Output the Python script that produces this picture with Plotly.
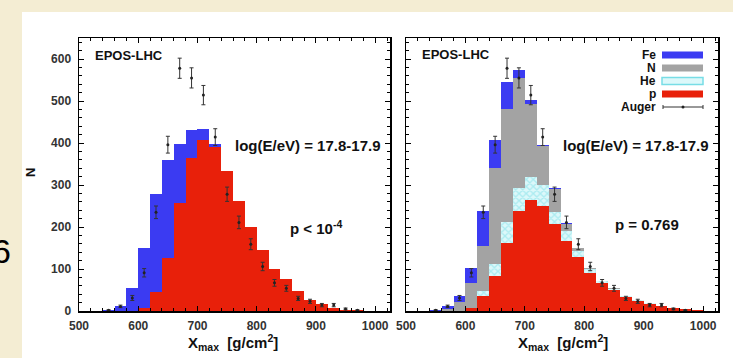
import plotly.graph_objects as go

# ---------------- data ----------------
bin_centers = [510, 530, 550, 570, 590, 610, 630, 650, 670, 690, 710, 730, 750,
               770, 790, 810, 830, 850, 870, 890, 910, 930, 950, 970, 990, 1010]
bin_width = 20

# left panel: p + Fe fit
left_p = [0, 0, 0, 0, 0, 8, 45, 127, 256, 365, 408, 390, 333,
          263, 199, 145, 101, 76, 47, 26, 16, 8, 3, 2, 1, 0]
left_fe = [1, 1, 2, 13, 55, 142, 233, 233, 142, 65, 25, 7, 0,
           0, 0, 0, 0, 0, 0, 0, 0, 0, 0, 0, 0, 0]

# right panel: p, He, N, Fe fit
right_p = [0, 0, 0, 0, 0, 6, 36, 83, 162, 237, 265, 249, 208,
           166, 128, 90, 66, 50, 34, 24, 17, 11, 6, 4, 2, 1]
right_he = [0, 0, 0, 0, 0, 2, 12, 30, 50, 55, 55, 51, 27,
            24, 16, 10, 5, 3, 2, 2, 1, 1, 0, 0, 0, 0]
right_n = [1, 1, 1, 4, 22, 58, 107, 228, 270, 263, 174, 93, 55,
           18, 5, 2, 1, 1, 0, 0, 0, 0, 0, 0, 0, 0]
right_fe = [0, 0, 1, 9, 14, 37, 82, 67, 63, 18, 8, 2, 2,
            1, 0, 0, 0, 0, 0, 0, 0, 0, 0, 0, 0, 0]

# Auger data
auger_x = [550, 570, 590, 610, 630, 650, 670, 690, 710, 730, 750, 770, 790,
           810, 830, 850, 870, 890, 910, 930, 950, 970]
auger_n = [2, 11, 31, 91, 235, 396, 578, 555, 514, 414, 278, 211, 159,
           106, 67, 54, 30, 23, 14, 14, 5, 2]
auger_err = [1, 3, 6, 10, 15, 20, 24, 24, 23, 20, 17, 15, 13,
             10, 8, 7, 5, 5, 4, 4, 2, 1]

x_ticks = [500, 600, 700, 800, 900, 1000]
y_ticks = [0, 100, 200, 300, 400, 500, 600]

# ---------------- styling ----------------
W, H = 733, 358
FONT = "Liberation Sans, Arial, Helvetica, sans-serif"
RED = "#e8200a"
BLUE = "#3b3bf2"
GRAY = "#a3a3a3"
CYAN_FG = "#78dde6"
CYAN_BG = "#dcf8fa"
BEIGE = "#f4edd3"


def px(x):
    return x / W


def py(y):
    return 1 - y / H


fig = go.Figure()


def add_bar(vals, color, xa, ya, pattern=None):
    marker = dict(color=color, line=dict(width=0))
    if pattern:
        marker["pattern"] = pattern
    fig.add_trace(go.Bar(x=bin_centers, y=vals, width=bin_width, marker=marker,
                         xaxis=xa, yaxis=ya, showlegend=False, hoverinfo="skip"))


def add_auger(xa, ya):
    fig.add_trace(go.Scatter(
        x=auger_x, y=auger_n, mode="markers", xaxis=xa, yaxis=ya,
        marker=dict(color="#222222", size=3),
        error_y=dict(type="data", array=auger_err, color="#333333",
                     thickness=1, width=2),
        showlegend=False, hoverinfo="skip"))


# left panel
add_bar(left_p, RED, "x", "y")
add_bar(left_fe, BLUE, "x", "y")
add_auger("x", "y")

# right panel
add_bar(right_p, RED, "x2", "y2")
add_bar(right_he, CYAN_BG, "x2", "y2",
        pattern=dict(shape="x", fgcolor=CYAN_FG, bgcolor=CYAN_BG, size=5, solidity=0.45))
add_bar(right_n, GRAY, "x2", "y2")
add_bar(right_fe, BLUE, "x2", "y2")
add_auger("x2", "y2")

tickfont = dict(family=FONT, size=12, color="#333333", weight="bold")

common_x = dict(range=[500, 1025], tickvals=x_ticks, ticks="inside", ticklen=5,
                tickwidth=1, tickcolor="black", showline=True, linecolor="black",
                linewidth=1.5, mirror="allticks", showgrid=False, zeroline=False,
                tickfont=tickfont, fixedrange=True, automargin=False,
                minor=dict(dtick=20, ticks="inside", ticklen=3, tickcolor="black",
                           tickwidth=1, showgrid=False),
                ticklabelstandoff=3)
common_y = dict(range=[0, 650], tickvals=y_ticks, ticks="inside", ticklen=5,
                tickwidth=1, tickcolor="black", showline=True, linecolor="black",
                linewidth=1.5, mirror="allticks", showgrid=False, zeroline=False,
                tickfont=tickfont, fixedrange=True, automargin=False,
                minor=dict(dtick=20, ticks="inside", ticklen=3, tickcolor="black",
                           tickwidth=1, showgrid=False),
                ticklabelstandoff=4)

dom_y = [py(311), py(38)]

fig.update_layout(
    width=W, height=H,
    margin=dict(l=0, r=0, t=0, b=0),
    paper_bgcolor=BEIGE,
    plot_bgcolor="white",
    barmode="stack", bargap=0,
    showlegend=False,
    font=dict(family=FONT, color="#111111"),
    xaxis=dict(domain=[px(79), px(390)], anchor="y", **common_x),
    yaxis=dict(domain=dom_y, anchor="x", **common_y),
    xaxis2=dict(domain=[px(406), px(718)], anchor="y2", **common_x),
    yaxis2=dict(domain=dom_y, anchor="x2", showticklabels=False, **common_y),
)

# white panel behind the charts
shapes = [dict(type="rect", xref="paper", yref="paper", x0=px(22), x1=1.0,
               y0=0, y1=py(12), fillcolor="white", line=dict(width=0), layer="below")]

# custom legend (right panel)
leg_rows = [("Fe", BLUE, 55), ("N", GRAY, 68), ("He", CYAN_FG, 81), ("p", RED, 94)]
annotations = []
for name, col, yy in leg_rows:
    annotations.append(dict(text=f"<b>{name}</b>", x=px(658), y=py(yy), xref="paper", yref="paper",
                            xanchor="right", yanchor="middle", showarrow=False,
                            font=dict(family=FONT, size=12, color="#111111")))
    if name == "He":
        shapes.append(dict(type="rect", xref="paper", yref="paper", x0=px(662), x1=px(703),
                           y0=py(yy + 3.5), y1=py(yy - 3.5), fillcolor=CYAN_BG,
                           line=dict(color=CYAN_FG, width=1.5)))
    else:
        shapes.append(dict(type="rect", xref="paper", yref="paper", x0=px(662), x1=px(703),
                           y0=py(yy + 3.5), y1=py(yy - 3.5), fillcolor=col, line=dict(width=0)))
annotations.append(dict(text="<b>Auger</b>", x=px(658), y=py(107), xref="paper", yref="paper",
                        xanchor="right", yanchor="middle", showarrow=False,
                        font=dict(family=FONT, size=12, color="#111111")))
shapes.append(dict(type="line", xref="paper", yref="paper", x0=px(663), x1=px(703),
                   y0=py(107), y1=py(107), line=dict(color="#333333", width=1)))
for xx in (663, 703):
    shapes.append(dict(type="line", xref="paper", yref="paper", x0=px(xx), x1=px(xx),
                       y0=py(105), y1=py(109), line=dict(color="#333333", width=1)))
shapes.append(dict(type="circle", xref="paper", yref="paper", x0=px(681.5), x1=px(684.5),
                   y0=py(108.5), y1=py(105.5), fillcolor="#222222", line=dict(width=0)))


def ann(text, x, y, size, xanchor="left", angle=0, weight=True, color="#111111"):
    annotations.append(dict(text=f"<b>{text}</b>" if weight else text, x=px(x), y=py(y),
                            xref="paper", yref="paper", xanchor=xanchor, yanchor="middle",
                            showarrow=False, textangle=angle,
                            font=dict(family=FONT, size=size, color=color)))


ann("EPOS-LHC", 93, 55, 13)
ann("EPOS-LHC", 420, 54, 13)
ann("log(E/eV) = 17.8-17.9", 382, 145, 15, xanchor="right")
ann("log(E/eV) = 17.8-17.9", 710, 145, 15, xanchor="right")
ann("p < 10<sup>-4</sup>", 288, 227, 15)
ann("p = 0.769", 613, 224, 15)
ann("N", 30, 173, 13, xanchor="center", angle=-90)
ann("X<sub>max</sub>  [g/cm<sup>2</sup>]", 233, 342, 15, xanchor="center")
ann("X<sub>max</sub>  [g/cm<sup>2</sup>]", 563, 342, 15, xanchor="center")
ann("6", 13, 251, 34, xanchor="right", weight=False, color="#000000")

fig.update_layout(shapes=shapes, annotations=annotations)

fig.write_html("out.html",
               config={"displayModeBar": False, "staticPlot": True},
               post_script="document.body.style.margin='0';document.body.style.padding='0';"
                           "document.body.style.overflow='hidden';")
